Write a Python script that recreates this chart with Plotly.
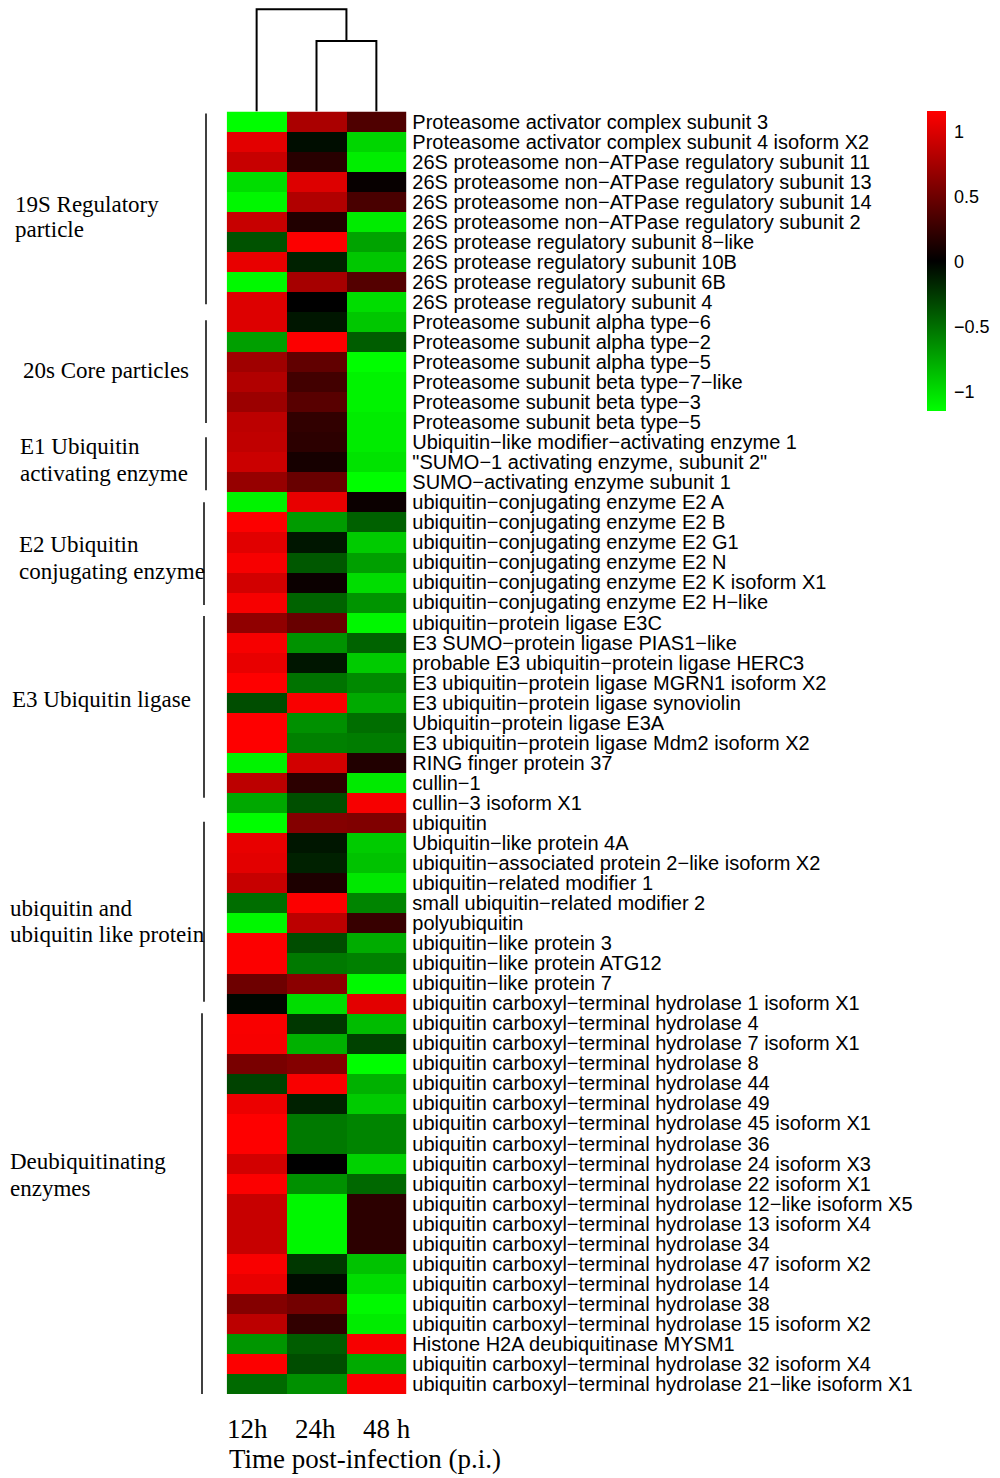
import plotly.graph_objects as go

# row-scaled expression (z-score per gene)
genes = [
    "Proteasome activator complex subunit 3",
    "Proteasome activator complex subunit 4 isoform X2",
    "26S proteasome non−ATPase regulatory subunit 11",
    "26S proteasome non−ATPase regulatory subunit 13",
    "26S proteasome non−ATPase regulatory subunit 14",
    "26S proteasome non−ATPase regulatory subunit 2",
    "26S protease regulatory subunit 8−like",
    "26S protease regulatory subunit 10B",
    "26S protease regulatory subunit 6B",
    "26S protease regulatory subunit 4",
    "Proteasome subunit alpha type−6",
    "Proteasome subunit alpha type−2",
    "Proteasome subunit alpha type−5",
    "Proteasome subunit beta type−7−like",
    "Proteasome subunit beta type−3",
    "Proteasome subunit beta type−5",
    "Ubiquitin−like modifier−activating enzyme 1",
    "\"SUMO−1 activating enzyme, subunit 2\"",
    "SUMO−activating enzyme subunit 1",
    "ubiquitin−conjugating enzyme E2 A",
    "ubiquitin−conjugating enzyme E2 B",
    "ubiquitin−conjugating enzyme E2 G1",
    "ubiquitin−conjugating enzyme E2 N",
    "ubiquitin−conjugating enzyme E2 K isoform X1",
    "ubiquitin−conjugating enzyme E2 H−like",
    "ubiquitin−protein ligase E3C",
    "E3 SUMO−protein ligase PIAS1−like",
    "probable E3 ubiquitin−protein ligase HERC3",
    "E3 ubiquitin−protein ligase MGRN1 isoform X2",
    "E3 ubiquitin−protein ligase synoviolin",
    "Ubiquitin−protein ligase E3A",
    "E3 ubiquitin−protein ligase Mdm2 isoform X2",
    "RING finger protein 37",
    "cullin−1",
    "cullin−3 isoform X1",
    "ubiquitin",
    "Ubiquitin−like protein 4A",
    "ubiquitin−associated protein 2−like isoform X2",
    "ubiquitin−related modifier 1",
    "small ubiquitin−related modifier 2",
    "polyubiquitin",
    "ubiquitin−like protein 3",
    "ubiquitin−like protein ATG12",
    "ubiquitin−like protein 7",
    "ubiquitin carboxyl−terminal hydrolase 1 isoform X1",
    "ubiquitin carboxyl−terminal hydrolase 4",
    "ubiquitin carboxyl−terminal hydrolase 7 isoform X1",
    "ubiquitin carboxyl−terminal hydrolase 8",
    "ubiquitin carboxyl−terminal hydrolase 44",
    "ubiquitin carboxyl−terminal hydrolase 49",
    "ubiquitin carboxyl−terminal hydrolase 45 isoform X1",
    "ubiquitin carboxyl−terminal hydrolase 36",
    "ubiquitin carboxyl−terminal hydrolase 24 isoform X3",
    "ubiquitin carboxyl−terminal hydrolase 22 isoform X1",
    "ubiquitin carboxyl−terminal hydrolase 12−like isoform X5",
    "ubiquitin carboxyl−terminal hydrolase 13 isoform X4",
    "ubiquitin carboxyl−terminal hydrolase 34",
    "ubiquitin carboxyl−terminal hydrolase 47 isoform X2",
    "ubiquitin carboxyl−terminal hydrolase 14",
    "ubiquitin carboxyl−terminal hydrolase 38",
    "ubiquitin carboxyl−terminal hydrolase 15 isoform X2",
    "Histone H2A deubiquitinase MYSM1",
    "ubiquitin carboxyl−terminal hydrolase 32 isoform X4",
    "ubiquitin carboxyl−terminal hydrolase 21−like isoform X1",
]

times = ["12h", "24h", "48 h"]

z_12h = [-1.15, 1.03, 0.90, -1.00, -1.12, 0.90, -0.37, 1.05, -1.13, 1.00,
         1.00, -0.72, 0.72, 0.80, 0.70, 0.85, 0.87, 0.92, 0.68, -1.10,
         1.14, 1.02, 1.12, 0.95, 1.12, 0.65, 1.12, 1.05, 1.15, -0.35,
         1.15, 1.15, -1.10, 0.85, -0.76, -1.15, 1.05, 1.03, 0.90, -0.50,
         -1.12, 1.14, 1.14, 0.50, -0.03, 1.13, 1.12, 0.55, -0.30, 1.07,
         1.15, 1.15, 0.95, 1.14, 0.90, 0.90, 0.90, 1.13, 1.05, 0.60,
         0.85, -0.68, 1.14, -0.48]
z_24h = [0.77, -0.06, 0.18, 1.00, 0.80, 0.15, 1.14, -0.15, 0.75, 0.00,
         -0.10, 1.14, 0.44, 0.30, 0.40, 0.22, 0.20, 0.10, 0.47, 1.05,
         -0.70, -0.10, -0.40, 0.05, -0.45, 0.47, -0.66, -0.10, -0.52, 1.13,
         -0.65, -0.58, 0.95, 0.20, -0.36, 0.60, -0.10, -0.15, 0.13, 1.14,
         0.85, -0.35, -0.55, 0.63, -1.00, -0.25, -0.80, 0.60, 1.13, -0.15,
         -0.55, -0.55, 0.00, -0.65, -1.12, -1.12, -1.12, -0.25, -0.05, 0.52,
         0.22, -0.42, -0.35, -0.65]
z_48h = [0.36, -0.97, -1.08, 0.03, 0.33, -1.07, -0.74, -0.90, 0.38, -1.00,
         -0.90, -0.42, -1.15, -1.10, -1.10, -1.07, -1.07, -1.03, -1.15, 0.05,
         -0.44, -0.92, -0.72, -1.00, -0.67, -1.12, -0.45, -0.92, -0.62, -0.77,
         -0.50, -0.56, 0.15, -1.06, 1.12, 0.58, -0.92, -0.88, -1.05, -0.60,
         0.25, -0.78, -0.58, -1.13, 1.03, -0.85, -0.30, -1.15, -0.80, -0.92,
         -0.60, -0.60, -0.95, -0.47, 0.20, 0.20, 0.20, -0.88, -1.00, -1.13,
         -1.07, 1.12, -0.77, 1.13]

# column dendrogram: (24h,48h) merge first, then 12h joins
merge_heights = [0.69, 1.0]

# functional groups, bracket extent in row units as drawn
group_lines = [["19S Regulatory", "particle"], ["20s Core particles"],
               ["E1 Ubiquitin", "activating enzyme"],
               ["E2 Ubiquitin", "conjugating enzyme"], ["E3 Ubiquitin ligase"],
               ["ubiquitin and", "ubiquitin like protein"],
               ["Deubiquitinating", "enzymes"]]
bracket_top = [-0.4, 9.92, 15.75, 19.0, 24.67, 34.94, 44.5]
bracket_bottom = [9.12, 15.05, 18.4, 24.13, 33.75, 43.93, 63.5]

# ---- layout helpers: positions given in page pixels; the page body has an 8px margin
OFF = 8
W, H = 984, 1470


def px_x(p):
    return (p - OFF) / W


def px_y(p):
    return 1 - (p - OFF) / H


bracket_x = [206, 206, 206, 204, 204, 204, 202]
label_pos = [(13, [204.5, 229.5]), (21, [371]), (18, [446, 473]),
             (17, [544.5, 571]), (9.5, [699.5]), (8, [908, 934.5]),
             (8, [1161, 1188])]

n = len(genes)
z = [[a, b, c] for a, b, c in zip(z_12h, z_24h, z_48h)]

fig = go.Figure()

fig.add_trace(go.Heatmap(
    z=z, x=[0, 1, 2], y=list(range(n)),
    zmin=-1.155, zmax=1.155,
    colorscale=[[0, "#00ff00"], [0.5, "#000000"], [1, "#ff0000"]],
    colorbar=dict(
        x=px_x(926.5), xanchor="left", xpad=0,
        y=px_y(111.5), yanchor="top", ypad=0,
        lenmode="pixels", len=300, thickness=19, outlinewidth=0,
        tickvals=[-1, -0.5, 0, 0.5, 1],
        ticktext=["−1", "−0.5", "0", "0.5", "1"],
        ticks="outside", ticklen=5, tickcolor="rgba(0,0,0,0)",
        tickfont=dict(family="Liberation Sans, Arial", size=18, color="black"),
    ),
    hovertemplate="%{text}<extra></extra>",
    text=[[f"{g}<br>{t}: {v:.2f}" for t, v in zip(times, row)] for g, row in zip(genes, z)],
))

# dendrogram from merge heights
h1, h2 = merge_heights
dx = [1, 1, 2, 2, None, 0, 0, 1.5, 1.5]
dy = [0, h1, h1, 0, None, 0, h2, h2, h1]
fig.add_trace(go.Scatter(x=dx, y=dy, mode="lines", xaxis="x2", yaxis="y2",
                         line=dict(color="black", width=2), hoverinfo="skip"))

heat_dom_x = [px_x(226.7), px_x(406.3)]
heat_dom_y = [px_y(1394), px_y(111.5)]
fig.update_layout(
    width=W, height=H,
    margin=dict(l=0, r=0, t=0, b=0),
    paper_bgcolor="white", plot_bgcolor="white",
    showlegend=False,
    xaxis=dict(domain=heat_dom_x, range=[-0.5, 2.5],
               showticklabels=False, showgrid=False, zeroline=False,
               ticks="", automargin=False, fixedrange=True),
    yaxis=dict(domain=heat_dom_y, range=[n - 0.5, -0.5], side="right",
               tickvals=list(range(n)), ticktext=genes, ticks="",
               ticklabelstandoff=5,
               tickfont=dict(family="Liberation Sans, Arial", size=20, color="black"),
               showgrid=False, zeroline=False, automargin=False),
    xaxis2=dict(domain=heat_dom_x, range=[-0.5, 2.5], anchor="y2",
                visible=False, automargin=False),
    # top merge sits 1px below the top edge of the page area
    yaxis2=dict(domain=[px_y(111.5), px_y(OFF)], range=[0, h2 * 103.5 / 102.3],
                anchor="x2", visible=False, automargin=False),
)

# group brackets and labels
serif = dict(family="Liberation Serif, Times New Roman", size=23, color="black")
for i, lines in enumerate(group_lines):
    fig.add_shape(type="line", xref="paper", yref="y",
                  x0=px_x(bracket_x[i]), x1=px_x(bracket_x[i]),
                  y0=bracket_top[i], y1=bracket_bottom[i],
                  line=dict(color="black", width=1.5))
    lx, ly = label_pos[i]
    for text, yy in zip(lines, ly):
        fig.add_annotation(text=text, xref="paper", yref="paper",
                           x=px_x(lx), y=px_y(yy), xanchor="left", yanchor="middle",
                           showarrow=False, font=serif)

# time labels and axis title
big_serif = dict(family="Liberation Serif, Times New Roman", size=27, color="black")
for t, cx in zip(times, [247, 315, 387]):
    fig.add_annotation(text=t, xref="paper", yref="paper", x=px_x(cx), y=px_y(1429),
                       xanchor="center", yanchor="middle", showarrow=False, font=big_serif)
fig.add_annotation(text="Time post-infection (p.i.)", xref="paper", yref="paper",
                   x=px_x(227), y=px_y(1459), xanchor="left", yanchor="middle",
                   showarrow=False, font=big_serif)

fig.write_html("out.html")
